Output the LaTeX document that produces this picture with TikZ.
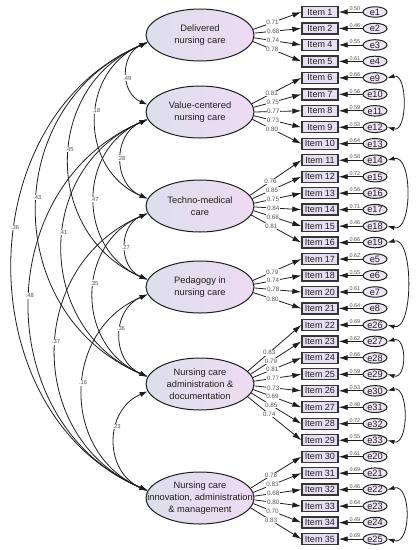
\documentclass[tikz,border=0pt]{standalone}
\usepackage{fontspec}
\setmainfont{Liberation Sans}
\usetikzlibrary{arrows.meta,shapes.geometric}
\definecolor{lineC}{HTML}{1E1E1E}
\definecolor{fL}{RGB}{220,223,237}
\definecolor{fR}{RGB}{238,219,241}
\definecolor{itemF}{RGB}{230,222,242}
\definecolor{errF}{RGB}{238,228,246}
\definecolor{lblC}{HTML}{505050}
\begin{document}
\begin{tikzpicture}[x=1pt,y=1pt,
  factor/.style={ellipse, draw=lineC, line width=1pt, left color=fL, right color=fR,
    minimum width=108pt, minimum height=52pt, inner sep=0pt},
  ftext/.style={align=center, font=\fontsize{9.3}{11.8}\selectfont, text=black!88},
  itembox/.style={rectangle, draw=lineC!90, line width=1.3pt, fill=itemF,
    minimum width=36pt, minimum height=11pt, inner sep=0pt,
    font=\fontsize{9}{10}\selectfont, text=black!88},
  errnode/.style={ellipse, draw=lineC, line width=1pt, fill=errF,
    minimum width=24pt, minimum height=10.5pt, inner sep=0pt,
    text height=6.6pt, text depth=0pt, font=\fontsize{9.2}{10}\selectfont, text=black!88},
  load/.style={draw=lineC, line width=0.8pt, -{Latex[length=9pt,width=5.5pt]}},
  cov/.style={draw=lineC, line width=0.8pt,
    {Latex[length=8pt,width=5pt]}-{Latex[length=8pt,width=5pt]},
    bend right=67, looseness=1.23},
  ecov/.style={draw=lineC, line width=0.8pt,
    {Latex[length=7pt,width=4.5pt]}-{Latex[length=7pt,width=4.5pt]}},
  flbl/.style={pos=0.4, fill=white, inner sep=0.6pt, font=\fontsize{6.3}{7}\selectfont, text=lblC},
  elbl/.style={pos=0.32, above, inner sep=0.8pt, font=\fontsize{5.5}{6}\selectfont, text=lblC},
  clbl/.style={fill=white, inner sep=0.7pt, font=\fontsize{5.8}{6.5}\selectfont, text=lblC}
]
\useasboundingbox (0,0) rectangle (416,-550);

% latent factors
\node[factor, label={[ftext]center:{Delivered\\nursing care}}] (F1) at (200,-35) {};
\node[factor, label={[ftext]center:{Value-centered\\nursing care}}] (F2) at (200,-112) {};
\node[factor, label={[ftext]center:{Techno-medical\\care}}] (F3) at (200,-206) {};
\node[factor, label={[ftext]center:{Pedagogy in\\nursing care}}] (F4) at (200,-287) {};
\node[factor, label={[ftext]center:{Nursing care\\administration \&\\documentation}}] (F5) at (200,-384) {};
\node[factor, label={[ftext]center:{Nursing care\\innovation, administration\\\& management}}] (F6) at (200,-498) {};

% items and error terms
\foreach \k/\n/\e/\v in {0/1/1/0.50, 1/2/2/0.46, 2/4/3/0.55, 3/5/4/0.61,
  4/6/9/0.66, 5/7/10/0.56, 6/8/11/0.59, 7/9/12/0.53, 8/10/13/0.64,
  9/11/14/0.58, 10/12/15/0.72, 11/13/16/0.56, 12/14/17/0.71, 13/15/18/0.46, 14/16/19/0.66,
  15/17/5/0.62, 16/18/6/0.55, 17/20/7/0.61, 18/21/8/0.64,
  19/22/26/0.69, 20/23/27/0.62, 21/24/28/0.66, 22/25/29/0.59, 23/26/30/0.53, 24/27/31/0.48, 25/28/32/0.72, 26/29/33/0.55,
  27/30/20/0.61, 28/31/21/0.69, 29/32/22/0.46, 30/33/23/0.64, 31/34/24/0.49, 32/35/25/0.69}{
  \node[itembox] (it\k) at (320,{-12-16.47*\k}) {Item \n};
  \node[errnode] (er\k) at (375,{-12-16.47*\k}) {e\e};
  \draw[load] (er\k) -- node[elbl]{\v} (it\k);
}

% factor loadings
\foreach \k/\fa/\cy/\v in {0/F1/35/0.71, 1/F1/35/0.68, 2/F1/35/0.74, 3/F1/35/0.78,
  4/F2/112/0.81, 5/F2/112/0.75, 6/F2/112/0.77, 7/F2/112/0.73, 8/F2/112/0.80,
  9/F3/206/0.76, 10/F3/206/0.85, 11/F3/206/0.75, 12/F3/206/0.84, 13/F3/206/0.68, 14/F3/206/0.81,
  15/F4/287/0.79, 16/F4/287/0.74, 17/F4/287/0.78, 18/F4/287/0.80,
  19/F5/384/0.83, 20/F5/384/0.79, 21/F5/384/0.81, 22/F5/384/0.77, 23/F5/384/0.73, 24/F5/384/0.69, 25/F5/384/0.85, 26/F5/384/0.74,
  27/F6/498/0.78, 28/F6/498/0.83, 29/F6/498/0.68, 30/F6/498/0.80, 31/F6/498/0.70, 32/F6/498/0.83}{
  \pgfmathtruncatemacro\ang{round(0.26*(\cy-(12+16.47*\k)))}
  \draw[load] (\fa.\ang) -- node[flbl]{\v} (it\k.west);
}

% factor covariances
\draw[cov] (F1.188) to node[clbl,pos=.56]{.49} (F2.172);
\draw[cov] (F1.188) to node[clbl,pos=.45]{.18} (F3.172);
\draw[cov] (F1.188) to node[clbl,pos=.46]{.45} (F4.172);
\draw[cov] (F1.188) to node[clbl,pos=.47]{.43} (F5.172);
\draw[cov, looseness=1.12] (F1.188) to node[clbl,pos=.43]{.36} (F6.172);
\draw[cov] (F2.188) to node[clbl,pos=.49]{.28} (F3.172);
\draw[cov] (F2.188) to node[clbl,pos=.50]{.47} (F4.172);
\draw[cov] (F2.188) to node[clbl,pos=.45]{.41} (F5.172);
\draw[cov, looseness=1.18] (F2.188) to node[clbl,pos=.48]{.48} (F6.172);
\draw[cov] (F3.188) to node[clbl,pos=.51]{.27} (F4.172);
\draw[cov] (F3.188) to node[clbl,pos=.44]{.35} (F5.172);
\draw[cov] (F3.188) to node[clbl,pos=.47]{.37} (F6.172);
\draw[cov] (F4.188) to node[clbl,pos=.43]{.36} (F5.172);
\draw[cov] (F4.188) to node[clbl,pos=.46]{.16} (F6.172);
\draw[cov] (F5.188) to node[clbl,pos=.38]{.23} (F6.172);

% error covariances
\draw[ecov] (er4.east) to[out=15,in=-15,looseness=1.09] (er7.east);
\draw[ecov] (er9.east) to[out=15,in=-15,looseness=1.02] (er13.east);
\draw[ecov] (er14.east) to[out=15,in=-15,looseness=0.85] (er19.east);
\draw[ecov] (er20.east) to[out=15,in=-15,looseness=1.58] (er22.east);
\draw[ecov] (er23.east) to[out=15,in=-15,looseness=1.16] (er26.east);
\draw[ecov] (er29.east) to[out=15,in=-15,looseness=1.3] (er32.east);
\end{tikzpicture}
\end{document}
